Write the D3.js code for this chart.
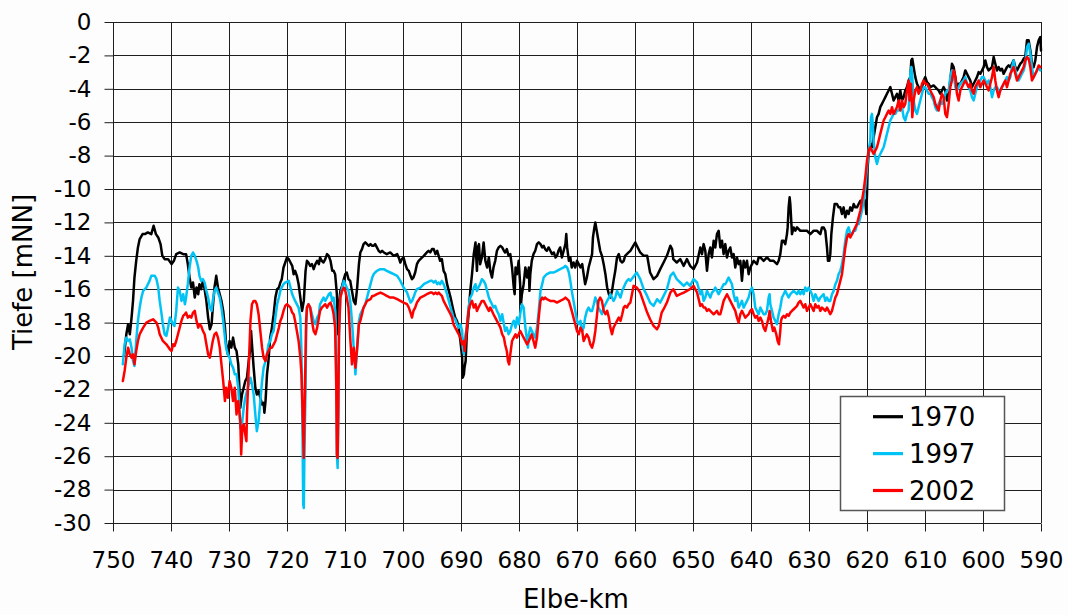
<!DOCTYPE html>
<html><head><meta charset="utf-8">
<script src="https://d3js.org/d3.v7.min.js"></script>
<style>
body{margin:0;background:#fdfdfd}
svg{display:block}
text{font-family:"DejaVu Sans",Verdana,sans-serif;fill:#000}
</style></head>
<body><svg id="c" width="1068" height="615"></svg>
<script>
const xTickValues = [750,740,730,720,710,700,690,680,670,660,650,640,630,620,610,600,590];
const yTickValues = [0,-2,-4,-6,-8,-10,-12,-14,-16,-18,-20,-22,-24,-26,-28,-30];
const seriesNames = ["1970","1997","2002"];
const seriesColors = ["#000000","#00c3f5","#ff0000"];

const s1970 = [
[748.1,-20.0],[747.7,-18.7],[747.4,-18.1],[747.1,-18.7],[746.8,-17.7],[746.55,-16.7],[746.3,-15.3],[746.0,-14.3],[745.7,-13.5],[745.4,-13.0],[744.9,-12.7],[744.5,-12.7],[744.0,-12.6],[743.4,-12.7],[743.0,-12.2],[742.6,-12.7],[742.2,-12.9],[741.8,-13.3],[741.5,-14.0],[741.1,-14.2],[740.5,-14.2],[739.9,-14.5],[739.5,-14.3],[739.1,-13.9],[738.5,-13.8],[737.9,-13.9],[737.4,-13.9],[737.1,-14.5],[736.8,-15.3],[736.5,-15.9],[736.2,-15.6],[735.9,-16.5],[735.6,-15.9],[735.3,-16.3],[735.1,-15.7],[734.8,-16.0],[734.5,-15.5],[734.2,-16.0],[733.9,-16.7],[733.6,-17.7],[733.3,-18.4],[733.0,-18.1],[732.8,-17.1],[732.5,-15.9],[732.2,-15.2],[731.9,-15.9],[731.6,-16.3],[731.3,-16.7],[731.0,-17.3],[730.7,-18.3],[730.5,-19.3],[730.2,-19.9],[729.9,-19.1],[729.6,-19.5],[729.3,-18.9],[729.0,-19.5],[728.7,-19.7],[728.4,-20.5],
[728.05,-23.1],[727.76,-22.3],[727.47,-21.9],[727.19,-21.5],[726.9,-21.3],[726.6,-20.3],[726.3,-19.5],[726.2,-18.5],[726.04,-19.3],[725.75,-20.7],[725.46,-21.9],[725.2,-22.3],[724.9,-22.1],[724.6,-22.5],[724.3,-22.9],[724.03,-22.8],[723.9,-23.4],[723.7,-22.7],[723.45,-21.1],[723.2,-20.3],[722.9,-18.9],[722.6,-18.3],[722.3,-17.5],[722.0,-16.5],[721.7,-16.0],[721.4,-15.9],[721.15,-15.6],[720.9,-15.4],[720.6,-14.7],[720.3,-14.4],[720.0,-14.1],[719.7,-14.2],[719.4,-14.4],[719.1,-14.6],[718.85,-15.1],[718.6,-14.9],[718.3,-15.2],[718.0,-15.7],[717.7,-16.5],[717.4,-17.3],[717.1,-16.7],[716.8,-14.9],[716.56,-14.3],[716.3,-14.4],[716.0,-14.6],[715.7,-14.5],[715.4,-14.8],[715.1,-14.5],[714.8,-14.3],[714.5,-14.5],[714.3,-14.1],[714.0,-14.3],[713.7,-14.4],[713.4,-14.2],[713.1,-13.9],[712.8,-14.0],[712.5,-14.3],[712.2,-14.9],[711.96,-14.9],[711.7,-15.1],[711.4,-16.3],[711.2,-18.7],[711.04,-17.1],[710.8,-16.1],[710.5,-15.8],[710.2,-15.4],[709.95,-15.1],[709.7,-15.0],[709.4,-15.4],[709.1,-15.5],[708.8,-16.1],[708.5,-16.7],[708.2,-16.9],[707.9,-15.9],[707.6,-14.5],[707.36,-13.8],[707.07,-13.6],[706.8,-13.3],[706.5,-13.2],[706.2,-13.3],[705.9,-13.4],[705.6,-13.3],[705.3,-13.4],[705.06,-13.4],[704.8,-13.3],[704.5,-13.5],[704.2,-13.7],[703.9,-13.8],[703.6,-13.7],[703.3,-13.8],[702.8,-13.9],[702.2,-13.8],[701.6,-14.0],[701.0,-13.9],[700.75,-14.1],[700.46,-14.4],[700.2,-14.2],[699.9,-14.1],[699.6,-14.5],[699.3,-14.8],[699.0,-14.9],[698.7,-15.2],[698.45,-15.4],[698.2,-15.3],[697.9,-15.0],[697.6,-14.5],[697.3,-14.3],[697.0,-14.2],[696.7,-14.1],[696.4,-14.0],[696.15,-13.9],[695.9,-13.8],[695.6,-13.7],[695.3,-13.8],
[695.0,-13.6],[694.7,-13.6],[694.4,-13.9],[694.1,-13.7],[693.85,-14.0],[693.6,-14.3],[693.3,-14.2],[693.0,-14.9],[692.7,-15.1],[692.4,-15.7],[692.1,-16.1],[691.8,-16.5],[691.55,-16.9],[691.3,-17.3],[691.0,-17.7],[690.7,-17.9],[690.4,-18.3],[690.1,-19.1],[689.8,-20.1],[689.7,-21.3],[689.5,-21.1],[689.4,-20.7],[689.2,-20.3],[689.0,-18.7],[688.7,-17.5],[688.4,-16.1],[688.1,-15.1],[687.8,-13.9],[687.5,-13.2],[687.4,-13.9],[687.25,-14.9],[687.1,-13.5],[686.9,-13.3],[686.7,-14.5],[686.4,-14.1],[686.1,-13.2],[685.8,-14.3],[685.5,-14.7],[685.2,-14.1],[684.95,-14.9],[684.66,-15.3],[684.4,-14.7],[684.1,-14.3],[683.8,-13.7],[683.5,-13.5],[683.2,-13.4],[682.9,-13.5],[682.6,-13.7],[682.4,-13.8],[682.1,-13.6],[681.8,-14.0],[681.5,-13.9],[681.2,-14.7],[680.9,-15.9],[680.75,-16.3],[680.6,-14.7],[680.35,-15.1],[680.06,-14.3],[679.8,-15.7],[679.66,-16.9],[679.5,-16.3],[679.2,-15.7],[678.9,-14.7],[678.6,-15.3],[678.3,-14.7],[678.2,-16.1],[678.05,-15.1],[677.8,-14.3],[677.5,-13.9],[677.2,-13.7],[676.9,-13.3],[676.6,-13.2],[676.3,-13.3],[676.0,-13.5],[675.75,-13.4],[675.5,-13.6],[675.2,-13.7],[674.9,-13.5],[674.6,-13.7],[674.3,-13.9],[674.0,-13.8],[673.7,-14.1],[673.45,-14.0],[673.2,-13.7],[672.9,-13.5],[672.6,-14.1],[672.3,-13.7],[672.0,-13.3],[671.85,-12.7],[671.7,-13.5],[671.4,-14.3],[671.15,-14.1],[670.9,-14.7],[670.6,-14.4],[670.3,-14.7],[670.0,-14.3],[669.7,-14.5],[669.4,-14.7],[669.1,-14.5],[668.85,-15.1],[668.6,-15.7],[668.3,-15.3],[668.0,-14.7],[667.7,-14.3],[667.4,-13.9],[667.25,-12.9],[667.0,-12.3],[666.84,-12.0],[666.7,-12.3],[666.4,-12.9],[666.2,-13.3],[666.0,-13.7],[665.7,-14.0],[665.4,-14.5],[665.1,-15.1],[664.8,-15.9],[664.5,-16.3],[664.25,-16.5],[663.96,-16.1],[663.7,-15.5],[663.4,-14.9],[663.1,-14.1],[662.8,-13.9],[662.5,-14.3],[662.2,-14.4],[661.95,-14.3],[661.7,-14.0],[661.4,-13.9],[661.1,-13.8],[660.8,-13.7],
[659.95,-13.2],[659.1,-13.8],[658.5,-14.0],[657.9,-14.0],[657.4,-15.0],[656.8,-15.4],[656.2,-15.2],[655.65,-14.8],[655.07,-14.4],[654.5,-14.0],[653.9,-13.4],[653.6,-13.6],[653.4,-14.2],[652.8,-14.4],[652.2,-14.2],[651.6,-14.6],[651.05,-14.2],[650.5,-14.6],[649.9,-14.8],[649.3,-14.4],
[648.74,-13.5],[648.45,-13.9],[648.17,-13.3],[647.88,-13.7],[647.59,-14.9],[647.3,-13.9],[647.02,-13.5],[646.73,-14.1],[646.44,-13.1],[646.15,-13.5],[645.87,-12.7],[645.58,-12.5],[645.29,-13.5],[645.0,-13.1],[644.72,-13.9],[644.43,-13.3],[644.14,-14.1],[643.86,-13.7],[643.57,-13.5],[643.28,-14.1],[642.99,-13.9],[642.71,-14.7],[642.42,-14.1],[642.13,-14.5],[641.84,-14.3],[641.56,-15.5],[641.27,-14.3],[640.98,-14.7],[640.69,-14.3],[640.41,-15.1],[640.12,-14.7],[639.83,-14.5],[639.54,-14.3],[638.97,-14.5],[638.68,-14.1],[638.39,-14.1],[637.82,-14.3],[637.25,-14.1],[636.67,-14.3],[636.1,-14.3],[635.52,-14.5],[635.23,-14.3],[634.95,-13.9],[634.66,-13.1],[634.37,-13.1],[634.09,-13.3],[633.8,-12.7],[633.68,-12.3],[633.51,-11.1],[633.34,-10.5],[633.22,-10.9],[632.94,-12.7],[632.65,-12.3],[632.36,-12.5],[632.07,-12.3],[631.5,-12.5],[630.92,-12.5],[630.35,-12.5],[629.77,-12.7],[629.2,-12.5],[628.63,-12.5],[628.05,-12.7],[627.76,-12.3],[627.48,-12.3],[627.19,-12.5],[626.9,-13.5],[626.73,-14.3],[626.5,-14.3],[626.33,-13.9],[626.15,-12.7],[625.87,-11.7],[625.58,-10.9],[625.18,-10.9],[624.89,-11.1],[624.6,-11.1],[624.31,-11.5],[624.03,-11.1],[623.74,-11.7],[623.45,-11.3],[623.17,-11.5],[622.88,-11.1],[622.59,-11.3],[622.3,-10.9],[622.02,-11.1],[621.73,-11.1],[621.44,-10.9],[621.15,-10.7],[620.87,-10.9],[620.58,-10.7],[620.29,-10.7],[620.12,-11.5],[620.0,-10.3],[619.89,-8.7],[619.72,-7.9],[619.43,-7.3],[619.14,-7.5],[618.86,-6.9],[618.57,-6.3],[618.28,-5.7],[617.99,-5.5],[617.71,-5.1],[617.42,-4.9],[617.13,-4.7],[616.84,-4.5],[616.56,-4.3],[616.27,-4.1],[615.98,-3.9],[615.69,-4.3],[615.41,-4.7],[615.12,-4.5],[614.83,-4.3],[614.55,-4.7],[614.26,-4.1],[613.97,-4.7],[613.68,-4.5],[613.4,-4.1],[613.11,-3.9],[612.82,-3.5],[612.53,-3.3],[612.36,-2.3],[612.19,-2.2],[611.96,-2.7],[611.67,-3.3],[611.38,-3.7],[611.1,-3.9],[610.81,-4.1],[610.52,-3.9],[610.23,-3.5],[609.95,-3.3],[609.66,-3.6],[609.37,-3.7],[609.09,-3.9],[608.51,-3.8],[607.94,-4.0],[607.65,-4.1],[607.36,-4.3],[607.07,-4.1],[606.79,-3.9],[606.5,-4.1],[606.21,-4.7],[605.92,-4.3],[605.64,-3.5],[605.35,-2.5],[605.06,-2.7],[604.77,-3.3],[604.49,-3.9],[604.2,-3.7],[603.91,-3.7],[603.63,-3.5],[603.34,-3.3],[603.05,-2.9],[602.76,-3.1],[602.48,-3.3],[602.19,-3.5],[601.9,-3.9],[601.61,-3.7],[601.33,-3.5],[601.04,-3.3],[600.75,-3.0],[600.46,-3.1],[600.18,-2.9],[599.89,-2.7],[599.6,-2.3],[599.31,-2.7],[599.03,-2.9],[598.74,-2.8],[598.45,-2.7],[598.16,-2.1],[597.88,-2.5],[597.59,-2.9],[597.3,-2.7],[597.02,-2.9],[596.73,-2.8],[596.44,-3.1],[596.15,-2.9],[595.87,-2.7],[595.58,-2.6],[595.29,-2.7],[595.0,-2.5],[594.72,-2.3],[594.43,-2.7],[594.14,-2.9],[593.86,-2.7],[593.57,-2.5],[593.28,-2.4],[592.99,-2.2],[592.71,-2.1],[592.42,-1.1],[592.13,-1.1],[591.84,-1.7],[591.56,-2.5],[591.27,-2.7],[590.98,-2.3],[590.69,-1.5],[590.4,-1.1],[590.12,-0.9],[590.0,-1.7]
];

const s1997 = [
[748.3,-20.5],[748.0,-19.3],[747.7,-18.9],[747.4,-19.1],[747.1,-19.0],[746.8,-19.5],[746.55,-20.3],[746.3,-20.6],[746.0,-19.1],[745.7,-17.9],[745.4,-17.1],[745.1,-16.5],[744.8,-16.1],[744.25,-15.9],[743.7,-15.5],[743.4,-15.2],[742.8,-15.2],[742.5,-15.4],[742.2,-15.9],[741.95,-16.7],[741.7,-17.3],[741.4,-18.1],[741.1,-18.7],[740.8,-18.8],[740.5,-18.3],[740.2,-17.7],[739.9,-17.9],[739.65,-18.1],[739.4,-18.2],[739.1,-17.3],[738.8,-15.9],[738.5,-16.1],[738.2,-16.7],[737.9,-16.3],[737.6,-16.9],[737.4,-16.5],[737.1,-15.7],[736.8,-14.7],[736.5,-14.0],[736.2,-13.8],[735.9,-14.0],[735.6,-14.3],[735.3,-14.7],[735.1,-15.2],[734.8,-15.5],[734.5,-15.4],[734.2,-15.6],[733.9,-16.1],[733.6,-16.5],[733.3,-17.1],[733.0,-17.3],[732.8,-16.7],[732.5,-16.1],[732.2,-15.9],[731.9,-16.2],[731.6,-16.5],[731.3,-17.1],[731.0,-17.9],[730.7,-18.9],[730.5,-19.5],[730.2,-19.9],[729.9,-20.1],[729.6,-20.5],[729.3,-20.7],[729.0,-21.1],[728.7,-21.1],[728.4,-21.9],
[728.05,-24.3],[727.76,-24.1],[727.47,-23.1],[727.19,-22.5],[726.9,-22.1],[726.6,-21.7],[726.3,-21.3],[726.04,-21.7],[725.75,-22.3],[725.46,-23.5],[725.2,-24.5],[724.9,-23.9],[724.6,-22.7],[724.3,-21.5],[724.03,-20.7],[723.7,-20.3],[723.45,-19.9],[723.2,-19.3],[722.9,-19.1],[722.6,-18.7],[722.3,-18.5],[722.0,-17.7],[721.7,-16.9],[721.4,-16.5],[721.15,-16.1],[720.9,-15.9],[720.6,-15.7],[720.3,-15.6],[719.7,-15.5],[719.4,-15.9],[719.1,-16.3],[718.6,-16.7],[718.0,-17.1],[717.7,-17.7],[717.5,-19.9],[717.35,-23.9],[717.2,-28.9],[717.1,-29.1],[717.0,-25.9],[716.8,-21.9],[716.7,-18.5],[716.56,-17.1],[716.3,-16.9],[716.0,-17.1],[715.7,-17.5],[715.4,-17.9],[715.1,-18.1],[714.8,-17.7],[714.5,-17.5],[714.3,-16.9],[714.0,-16.7],[713.7,-16.5],[713.4,-16.7],[713.1,-16.5],[712.8,-16.3],[712.5,-16.2],[712.2,-16.7],[711.96,-16.5],[711.7,-17.3],[711.5,-20.9],[711.4,-25.9],[711.27,-26.7],[711.15,-23.9],[711.04,-18.9],[710.8,-16.5],[710.5,-15.9],[710.2,-15.5],[709.95,-15.7],[709.7,-15.9],[709.4,-16.1],[709.1,-16.7],[708.8,-17.9],[708.5,-19.5],[708.2,-21.1],[707.9,-19.5],[707.6,-17.9],[707.36,-17.5],[707.07,-17.3],[706.8,-17.1],[706.5,-16.9],[706.2,-16.5],[705.9,-16.1],[705.6,-15.7],[705.3,-15.3],[705.06,-15.1],[704.8,-15.0],[704.5,-14.9],[703.9,-14.8],[703.3,-14.8],[702.8,-14.9],[702.2,-15.0],[701.6,-15.1],[701.0,-15.2],[700.46,-15.5],[699.9,-15.9],[699.3,-16.2],[699.0,-16.5],[698.7,-16.8],[698.45,-16.7],[698.2,-16.5],[697.9,-16.2],[697.6,-16.0],[697.0,-15.9],[696.4,-15.7],[695.9,-15.6],[695.3,-15.5],
[695.0,-15.5],[694.7,-15.6],[694.4,-15.5],[694.1,-15.7],[693.85,-15.6],[693.6,-15.7],[693.3,-15.5],[693.0,-15.7],[692.7,-16.0],[692.4,-16.3],[692.1,-16.7],[691.8,-17.1],[691.55,-17.4],[691.3,-17.7],[691.0,-17.8],[690.7,-18.1],[690.4,-18.3],[690.1,-18.1],[689.8,-18.5],[689.7,-19.5],[689.5,-19.9],[689.4,-19.1],[689.2,-18.7],[689.0,-18.3],[688.7,-17.1],[688.4,-16.5],[688.1,-16.3],[687.8,-15.9],[687.5,-15.7],[687.25,-16.1],[687.0,-15.9],[686.7,-15.7],[686.4,-15.4],[686.1,-15.5],[685.8,-15.7],[685.5,-16.1],[685.2,-16.5],[684.95,-16.7],[684.66,-16.9],[684.4,-17.1],[684.1,-17.0],[683.8,-17.3],[683.5,-17.5],[683.2,-17.9],[682.9,-17.5],[682.6,-18.1],[682.4,-18.5],[682.1,-18.3],[681.8,-18.7],[681.5,-18.5],[681.2,-18.1],[680.9,-17.9],[680.6,-18.3],[680.35,-17.7],[680.06,-18.1],[679.8,-17.5],[679.5,-16.9],[679.2,-17.1],[678.9,-18.3],[678.6,-19.1],[678.45,-19.5],[678.3,-18.7],[678.05,-18.3],[677.8,-18.5],[677.5,-18.7],[677.2,-18.9],[676.9,-18.3],[676.6,-17.3],[676.3,-16.1],[676.0,-15.7],[675.75,-15.3],[675.5,-15.2],[675.2,-15.1],[674.6,-15.0],[674.0,-15.0],[673.45,-14.9],[672.9,-14.8],[672.3,-14.7],[672.0,-14.6],[671.7,-14.7],[671.4,-15.0],[671.15,-15.5],[670.9,-16.1],[670.6,-16.7],[670.3,-17.3],[670.0,-17.9],[669.7,-18.1],[669.4,-17.9],[669.1,-18.5],[668.85,-18.3],[668.6,-17.7],[668.3,-17.3],[668.0,-17.1],[667.7,-17.3],[667.4,-17.3],[667.1,-16.9],[666.84,-16.5],[666.6,-16.7],[666.3,-17.1],[666.0,-17.3],[665.7,-17.5],[665.4,-17.1],[665.1,-16.9],[664.8,-16.7],[664.5,-16.5],[664.25,-16.3],[663.96,-16.5],[663.7,-16.7],[663.4,-16.5],[663.1,-16.1],[662.8,-16.3],[662.5,-16.5],[662.2,-16.1],[661.95,-15.9],[661.7,-15.7],[661.4,-15.5],[661.1,-15.4],[660.8,-15.5],
[659.7,-15.0],[659.1,-15.4],[658.5,-16.0],[657.9,-16.4],[657.4,-16.8],[656.8,-17.0],[656.2,-16.6],[655.65,-16.8],[655.07,-16.4],[654.5,-16.0],[653.9,-15.2],[653.4,-15.0],[652.8,-15.4],[652.2,-15.6],[651.6,-15.8],[651.05,-15.6],[650.5,-15.8],[649.9,-15.4],[649.3,-15.6],
[648.74,-16.3],[648.45,-16.1],[648.17,-16.7],[647.88,-16.5],[647.59,-16.1],[647.3,-16.3],[647.02,-16.5],[646.73,-16.2],[646.44,-16.1],[646.15,-15.9],[645.87,-16.1],[645.58,-16.3],[645.29,-16.1],[645.0,-15.9],[644.72,-15.7],[644.43,-15.7],[644.14,-15.5],[643.86,-15.3],[643.57,-15.5],[643.28,-15.7],[642.99,-16.3],[642.71,-16.7],[642.42,-16.5],[642.13,-17.1],[641.84,-16.9],[641.56,-16.7],[641.27,-17.1],[640.98,-16.9],[640.69,-16.7],[640.41,-16.5],[640.12,-16.1],[639.83,-15.9],[639.54,-16.3],[639.26,-17.1],[638.97,-17.3],[638.68,-17.5],[638.39,-17.1],[638.11,-17.3],[637.82,-17.5],[637.53,-17.5],[637.25,-17.3],[636.96,-16.5],[636.79,-16.3],[636.67,-16.9],[636.38,-17.3],[636.1,-17.7],[635.81,-17.9],[635.52,-18.1],[635.23,-17.5],[634.95,-17.1],[634.66,-16.5],[634.37,-16.3],[634.09,-16.1],[633.8,-16.3],[633.51,-16.5],[633.22,-16.3],[632.65,-16.1],[632.07,-16.3],[631.79,-16.1],[631.5,-16.3],[631.21,-16.1],[630.92,-16.3],[630.64,-15.9],[630.35,-16.1],[630.06,-15.9],[629.77,-16.1],[629.49,-16.3],[629.2,-16.7],[628.91,-16.3],[628.63,-16.5],[628.34,-16.7],[628.05,-16.5],[627.48,-16.3],[627.19,-16.7],[626.9,-16.5],[626.61,-16.7],[626.33,-16.7],[626.04,-16.3],[625.75,-16.1],[625.46,-15.7],[625.18,-15.5],[624.89,-15.1],[624.6,-14.9],[624.31,-14.5],[624.03,-13.9],[623.74,-13.1],[623.45,-12.5],[623.17,-12.3],[622.88,-12.7],[622.59,-12.7],[622.3,-12.5],[622.02,-12.5],[621.73,-12.1],[621.44,-12.1],[621.15,-11.7],[620.87,-11.3],[620.58,-10.7],[620.29,-9.9],[620.0,-8.7],[619.72,-7.7],[619.43,-7.1],[619.31,-5.7],[619.14,-5.5],[618.97,-6.3],[618.86,-7.1],[618.57,-8.1],[618.28,-8.5],[617.99,-8.1],[617.71,-7.9],[617.42,-7.7],[617.13,-7.5],[616.84,-7.1],[616.56,-6.7],[616.27,-6.3],[615.98,-5.9],[615.69,-5.7],[615.41,-5.5],[615.12,-5.5],[614.83,-5.3],[614.55,-5.3],[614.26,-5.1],[613.97,-5.1],[613.68,-5.7],[613.4,-5.9],[613.11,-5.5],[612.82,-5.3],[612.53,-3.1],[612.36,-2.7],[612.19,-3.3],[611.96,-4.7],[611.67,-5.3],[611.38,-5.5],[611.1,-5.1],[610.81,-4.7],[610.52,-4.3],[610.23,-3.9],[609.95,-3.9],[609.66,-4.1],[609.37,-4.3],[609.09,-4.3],[608.8,-4.5],[608.51,-4.7],[608.22,-5.1],[607.94,-5.3],[607.65,-4.9],[607.36,-4.7],[607.07,-4.9],[606.79,-4.7],[606.5,-4.3],[606.21,-4.1],[605.92,-4.1],[605.64,-3.3],[605.35,-2.9],[605.06,-3.1],[604.77,-3.9],[604.49,-4.1],[604.2,-3.9],[603.91,-3.7],[603.34,-3.5],[603.05,-3.3],[602.76,-3.7],[602.48,-3.9],[602.19,-4.1],[601.9,-4.5],[601.61,-4.7],[601.33,-4.3],[601.04,-3.9],[600.75,-3.7],[600.46,-3.5],[600.18,-3.3],[599.89,-3.3],[599.6,-3.5],[599.31,-3.7],[599.03,-3.5],[598.74,-3.9],[598.45,-4.5],[598.16,-4.1],[597.88,-3.9],[597.59,-3.9],[597.3,-4.1],[597.02,-4.1],[596.73,-3.9],[596.44,-3.7],[596.15,-3.5],[595.87,-3.3],[595.58,-3.5],[595.29,-3.3],[595.0,-2.7],[594.72,-2.3],[594.43,-2.9],[594.14,-3.3],[593.86,-3.5],[593.57,-3.3],[593.28,-3.1],[592.99,-2.9],[592.71,-2.5],[592.42,-1.5],[592.13,-1.3],[591.84,-1.9],[591.56,-2.7],[591.27,-3.3],[590.98,-3.1],[590.69,-2.9],[590.4,-2.7],[590.12,-2.9]
];

const s2002 = [
[748.3,-21.5],[748.0,-20.9],[747.7,-20.1],[747.4,-19.5],[747.1,-19.9],[746.8,-20.1],[746.55,-19.9],[746.3,-20.5],[746.0,-19.7],[745.7,-19.1],[745.4,-18.7],[745.1,-18.5],[744.8,-18.3],[744.25,-18.0],[743.7,-17.9],[743.1,-17.8],[742.5,-18.0],[742.2,-18.3],[741.95,-18.7],[741.4,-19.1],[740.8,-19.3],[740.2,-19.6],[739.9,-19.7],[739.65,-19.3],[739.4,-19.4],[739.1,-19.1],[738.8,-18.7],[738.5,-18.3],[738.2,-17.9],[737.9,-17.6],[737.6,-17.5],[737.4,-17.4],[737.1,-17.7],[736.8,-17.6],[736.5,-17.7],[736.2,-17.4],[735.9,-17.3],[735.6,-17.9],[735.3,-18.3],[735.1,-18.1],[734.8,-18.2],[734.5,-18.5],[734.2,-18.7],[733.9,-19.3],[733.6,-19.9],[733.3,-20.1],[733.0,-19.5],[732.8,-19.1],[732.5,-18.7],[732.2,-18.6],[731.9,-18.9],[731.6,-19.5],[731.3,-20.5],[731.0,-21.5],[730.7,-22.7],[730.5,-21.9],[730.2,-22.5],[729.9,-21.5],[729.6,-21.9],[729.3,-22.7],[729.0,-21.9],[728.7,-23.5],[728.4,-22.7],
[728.05,-23.9],[727.9,-25.9],[727.7,-24.3],[727.47,-24.1],[727.19,-24.7],[727.0,-25.1],[726.9,-23.5],[726.6,-20.7],[726.3,-17.9],[726.04,-16.9],[725.75,-16.7],[725.46,-16.7],[725.2,-16.9],[724.9,-17.5],[724.6,-18.5],[724.3,-19.5],[724.03,-20.1],[723.7,-20.3],[723.45,-19.9],[723.2,-19.7],[722.9,-19.5],[722.6,-19.5],[722.3,-19.3],[722.0,-19.1],[721.7,-18.7],[721.4,-18.3],[721.15,-17.9],[720.9,-17.7],[720.6,-17.3],[720.3,-17.0],[720.0,-16.9],[719.7,-17.0],[719.4,-17.1],[719.1,-17.4],[718.85,-17.5],[718.6,-17.9],[718.3,-18.5],[718.0,-19.1],[717.7,-20.1],[717.5,-21.1],[717.35,-22.9],[717.2,-24.9],[717.1,-26.1],[717.0,-23.9],[716.8,-19.9],[716.7,-17.9],[716.56,-17.1],[716.3,-16.9],[716.0,-17.1],[715.7,-17.9],[715.4,-18.5],[715.1,-18.7],[714.8,-18.3],[714.5,-17.7],[714.3,-17.3],[714.0,-17.1],[713.7,-17.0],[713.4,-16.9],[713.1,-17.1],[712.8,-16.9],[712.5,-16.8],[712.2,-17.1],[711.96,-17.5],[711.7,-18.3],[711.5,-21.9],[711.4,-25.9],[711.27,-26.1],[711.15,-22.9],[711.04,-18.7],[710.8,-16.5],[710.5,-16.1],[710.2,-15.9],[709.95,-16.1],[709.7,-16.5],[709.4,-17.1],[709.1,-18.9],[708.8,-20.5],[708.5,-19.5],[708.2,-20.7],[707.9,-19.5],[707.6,-18.1],[707.36,-17.9],[707.07,-17.5],[706.8,-17.1],[706.5,-16.9],[706.2,-16.7],[705.6,-16.6],[705.3,-16.4],[705.06,-16.4],[704.5,-16.3],[703.9,-16.2],[703.3,-16.3],[702.8,-16.4],[702.2,-16.5],[701.6,-16.5],[701.0,-16.6],[700.46,-16.7],[699.9,-16.8],[699.3,-16.9],[699.0,-17.1],[698.7,-17.4],[698.45,-17.7],[698.2,-17.3],[697.9,-17.1],[697.6,-16.8],[697.0,-16.5],[696.4,-16.4],[695.9,-16.3],[695.3,-16.2],
[695.0,-16.2],[694.7,-16.3],[694.4,-16.2],[694.1,-16.3],[693.85,-16.2],[693.6,-16.3],[693.3,-16.4],[693.0,-16.7],[692.7,-16.9],[692.4,-17.1],[692.1,-17.3],[691.8,-17.5],[691.55,-17.7],[691.3,-18.1],[691.0,-18.3],[690.7,-18.5],[690.4,-18.7],[690.1,-18.9],[689.8,-19.3],[689.5,-19.1],[689.4,-19.7],[689.2,-19.1],[689.0,-18.3],[688.7,-17.3],[688.4,-16.9],[688.1,-16.7],[687.8,-17.1],[687.5,-16.9],[687.25,-17.3],[687.0,-17.1],[686.7,-16.9],[686.4,-16.7],[686.1,-16.7],[685.8,-16.9],[685.5,-17.1],[685.2,-17.3],[684.95,-17.1],[684.66,-17.3],[684.4,-17.5],[684.1,-17.7],[683.8,-17.9],[683.5,-18.1],[683.2,-18.3],[682.9,-18.7],[682.6,-18.9],[682.4,-19.3],[682.1,-19.7],[681.9,-20.3],[681.7,-20.5],[681.5,-19.9],[681.2,-19.1],[680.9,-18.9],[680.6,-18.7],[680.35,-18.9],[680.06,-18.7],[679.8,-18.5],[679.5,-18.7],[679.2,-18.9],[678.9,-19.1],[678.6,-19.3],[678.3,-19.1],[678.05,-18.9],[677.8,-18.7],[677.5,-19.1],[677.2,-19.5],[676.9,-18.9],[676.6,-17.7],[676.3,-16.7],[676.0,-16.5],[675.75,-16.6],[675.5,-16.5],[675.2,-16.6],[674.6,-16.7],[674.0,-16.7],[673.45,-16.8],[672.9,-16.7],[672.3,-16.6],[672.0,-16.5],[671.7,-16.6],[671.4,-16.7],[671.15,-17.0],[670.9,-17.3],[670.6,-17.7],[670.3,-18.1],[670.0,-18.5],[669.7,-18.7],[669.4,-18.3],[669.1,-18.5],[668.85,-19.1],[668.6,-18.9],[668.3,-18.7],[668.0,-18.9],[667.7,-19.3],[667.4,-19.5],[667.1,-19.1],[666.84,-18.5],[666.6,-17.7],[666.3,-16.7],[666.0,-16.5],[665.7,-16.7],[665.4,-17.3],[665.1,-17.5],[664.8,-17.3],[664.5,-17.7],[664.25,-18.3],[663.96,-18.7],[663.7,-18.3],[663.4,-18.1],[663.1,-17.9],[662.8,-17.7],[662.5,-17.9],[662.2,-17.5],[661.95,-17.1],[661.7,-17.0],[661.4,-17.1],[661.1,-16.9],[660.8,-16.8],
[660.24,-15.8],[659.7,-15.9],[659.1,-16.2],[658.5,-16.8],[657.9,-17.4],[657.4,-17.8],[656.8,-18.2],[656.2,-18.4],[655.9,-18.2],[655.65,-17.8],[655.4,-17.4],[655.07,-17.2],[654.5,-16.8],[653.9,-16.2],[653.4,-16.0],[652.8,-16.4],[652.2,-16.3],[651.6,-16.2],[651.05,-16.1],[650.5,-16.0],[649.9,-15.8],[649.3,-16.2],
[648.74,-17.0],[648.45,-16.9],[648.17,-17.1],[647.88,-17.1],[647.59,-17.3],[647.3,-17.2],[647.02,-17.3],[646.73,-17.4],[646.44,-17.5],[646.15,-17.4],[645.87,-17.3],[645.58,-17.5],[645.29,-17.5],[645.0,-17.1],[644.72,-16.7],[644.43,-16.5],[644.14,-16.3],[643.86,-16.5],[643.57,-16.7],[643.28,-16.9],[642.99,-17.1],[642.71,-17.3],[642.42,-17.7],[642.13,-18.0],[641.84,-17.5],[641.56,-17.3],[641.27,-17.5],[640.98,-17.7],[640.69,-17.6],[640.41,-17.5],[640.12,-17.3],[639.83,-17.2],[639.54,-17.5],[639.26,-17.7],[638.97,-17.6],[638.68,-17.9],[638.39,-17.7],[638.11,-17.9],[637.82,-18.3],[637.53,-18.5],[637.25,-18.1],[636.96,-17.7],[636.79,-17.3],[636.56,-17.9],[636.21,-18.5],[635.98,-18.3],[635.64,-18.7],[635.41,-19.1],[635.18,-19.3],[634.95,-18.5],[634.83,-17.9],[634.66,-17.7],[634.37,-17.6],[634.09,-17.7],[633.8,-17.5],[633.51,-17.6],[633.22,-17.4],[632.94,-17.3],[632.65,-17.2],[632.36,-17.1],[632.07,-17.0],[631.79,-16.8],[631.5,-16.7],[631.21,-16.9],[630.92,-17.1],[630.64,-16.9],[630.35,-17.3],[630.06,-17.1],[629.77,-16.9],[629.49,-17.1],[629.2,-17.3],[628.91,-16.9],[628.63,-17.1],[628.34,-17.0],[628.05,-17.3],[627.76,-17.1],[627.48,-17.2],[627.19,-17.3],[626.9,-17.1],[626.61,-17.3],[626.33,-17.5],[626.04,-17.3],[625.75,-16.9],[625.46,-16.5],[625.18,-16.3],[624.89,-15.9],[624.6,-15.5],[624.31,-15.1],[624.03,-14.3],[623.74,-13.5],[623.45,-12.9],[623.17,-12.7],[622.88,-12.9],[622.59,-12.7],[622.3,-12.5],[622.02,-12.3],[621.73,-12.1],[621.44,-11.7],[621.15,-11.3],[620.87,-10.7],[620.58,-10.1],[620.29,-9.3],[620.0,-8.3],[619.72,-7.7],[619.43,-7.5],[619.14,-7.7],[618.86,-7.9],[618.57,-7.7],[618.28,-7.5],[617.99,-7.1],[617.71,-6.7],[617.42,-6.3],[617.13,-5.9],[616.84,-5.7],[616.56,-5.5],[616.27,-5.3],[615.98,-5.5],[615.69,-5.1],[615.41,-5.5],[615.12,-5.3],[614.83,-5.1],[614.55,-4.7],[614.26,-5.3],[613.97,-4.7],[613.68,-5.1],[613.4,-4.9],[613.11,-4.1],[612.82,-3.5],[612.65,-4.7],[612.42,-3.7],[612.19,-5.7],[611.96,-4.7],[611.67,-4.1],[611.38,-3.9],[611.1,-4.3],[610.81,-4.1],[610.52,-3.7],[610.23,-3.5],[609.95,-3.7],[609.66,-3.7],[609.37,-3.9],[609.09,-4.1],[608.8,-4.3],[608.51,-4.5],[608.22,-4.9],[607.94,-5.1],[607.65,-5.3],[607.36,-4.7],[607.07,-4.3],[606.79,-4.5],[606.5,-5.5],[606.21,-5.7],[605.92,-4.9],[605.64,-3.9],[605.35,-3.5],[605.06,-2.9],[604.77,-3.3],[604.49,-4.3],[604.2,-4.7],[603.91,-4.1],[603.63,-3.9],[603.34,-3.7],[603.05,-3.5],[602.76,-3.7],[602.48,-3.9],[602.19,-3.7],[601.9,-4.1],[601.61,-4.3],[601.33,-3.9],[601.04,-3.7],[600.75,-3.5],[600.46,-3.9],[600.18,-3.7],[599.89,-3.5],[599.6,-3.7],[599.31,-3.9],[599.03,-4.1],[598.74,-3.7],[598.45,-3.3],[598.16,-2.7],[597.88,-3.5],[597.59,-4.1],[597.3,-4.5],[597.02,-4.1],[596.73,-3.9],[596.44,-3.7],[596.15,-3.5],[595.87,-3.9],[595.58,-3.5],[595.29,-3.1],[595.0,-2.9],[594.72,-2.7],[594.43,-3.1],[594.14,-3.5],[593.86,-3.3],[593.57,-3.1],[593.28,-2.9],[592.99,-2.7],[592.71,-2.3],[592.42,-2.1],[592.13,-2.2],[591.84,-2.7],[591.56,-3.5],[591.27,-3.3],[590.98,-3.1],[590.69,-2.9],[590.4,-2.6],[590.12,-2.7]
];

const seriesData = [s1970, s1997, s2002];

const svg = d3.select("#c");
const plot = {left:113, right:1041, top:22, bottom:523};
const x = d3.scaleLinear().domain([750,590]).range([plot.left, plot.right]);
const y = d3.scaleLinear().domain([0,-30]).range([plot.top, plot.bottom]);
const gridColor = "#1e1e1e";

// grid
const grid = svg.append("g");
grid.selectAll("line.h").data(yTickValues).join("line")
  .attr("x1", plot.left).attr("x2", plot.right)
  .attr("y1", d => Math.round(y(d)) + 0.5).attr("y2", d => Math.round(y(d)) + 0.5)
  .attr("stroke", gridColor).attr("stroke-width", 1);
grid.selectAll("line.v").data(xTickValues).join("line")
  .attr("y1", plot.top).attr("y2", plot.bottom)
  .attr("x1", d => Math.round(x(d)) + 0.5).attr("x2", d => Math.round(x(d)) + 0.5)
  .attr("stroke", gridColor).attr("stroke-width", 1);

// axes
const yAxis = svg.append("g").attr("transform", `translate(${plot.left + 0.5},0)`)
  .call(d3.axisLeft(y).tickValues(yTickValues).tickSize(9).tickPadding(13).tickFormat(d => String(d)));
yAxis.select(".domain").remove();
yAxis.selectAll(".tick line").attr("stroke", gridColor);
yAxis.selectAll(".tick text").style("font-size", "23px").attr("fill", "#000");

const xAxis = svg.append("g").attr("transform", `translate(0,${plot.bottom + 0.5})`)
  .call(d3.axisBottom(x).tickValues(xTickValues).tickSize(8).tickFormat(d => String(d)));
xAxis.select(".domain").remove();
xAxis.selectAll(".tick line").attr("stroke", gridColor);
xAxis.selectAll(".tick text").style("font-size", "23px").attr("fill", "#000")
  .attr("y", 44).attr("dy", null);

// series
const line = d3.line().x(d => x(d[0])).y(d => y(d[1]));
seriesData.forEach((s, i) => {
  const sorted = s.slice().sort((a, b) => b[0] - a[0]);
  svg.append("path").datum(sorted)
    .attr("d", line)
    .attr("fill", "none")
    .attr("stroke", seriesColors[i])
    .attr("stroke-width", 2.5)
    .attr("stroke-linejoin", "round")
    .attr("stroke-linecap", "round");
});

// titles
svg.append("text").attr("x", 576).attr("y", 608).attr("text-anchor", "middle")
  .style("font-size", "26px").text("Elbe-km");
svg.append("text").attr("transform", "translate(31.5,272) rotate(-90)").attr("text-anchor", "middle")
  .style("font-size", "26px").text("Tiefe [mNN]");

// legend
const lg = svg.append("g");
lg.append("rect").attr("x", 840.5).attr("y", 396.5).attr("width", 164).attr("height", 114)
  .attr("fill", "#ffffff").attr("stroke", "#555").attr("stroke-width", 1.5);
const rowY = [416.7, 453.6, 490.5];
seriesNames.forEach((n, i) => {
  lg.append("line").attr("x1", 873).attr("x2", 903).attr("y1", rowY[i]).attr("y2", rowY[i])
    .attr("stroke", seriesColors[i]).attr("stroke-width", 3.2);
  lg.append("text").attr("x", 909).attr("y", rowY[i]).attr("dy", "0.36em")
    .style("font-size", "26px").text(n);
});
</script>
</body></html>
